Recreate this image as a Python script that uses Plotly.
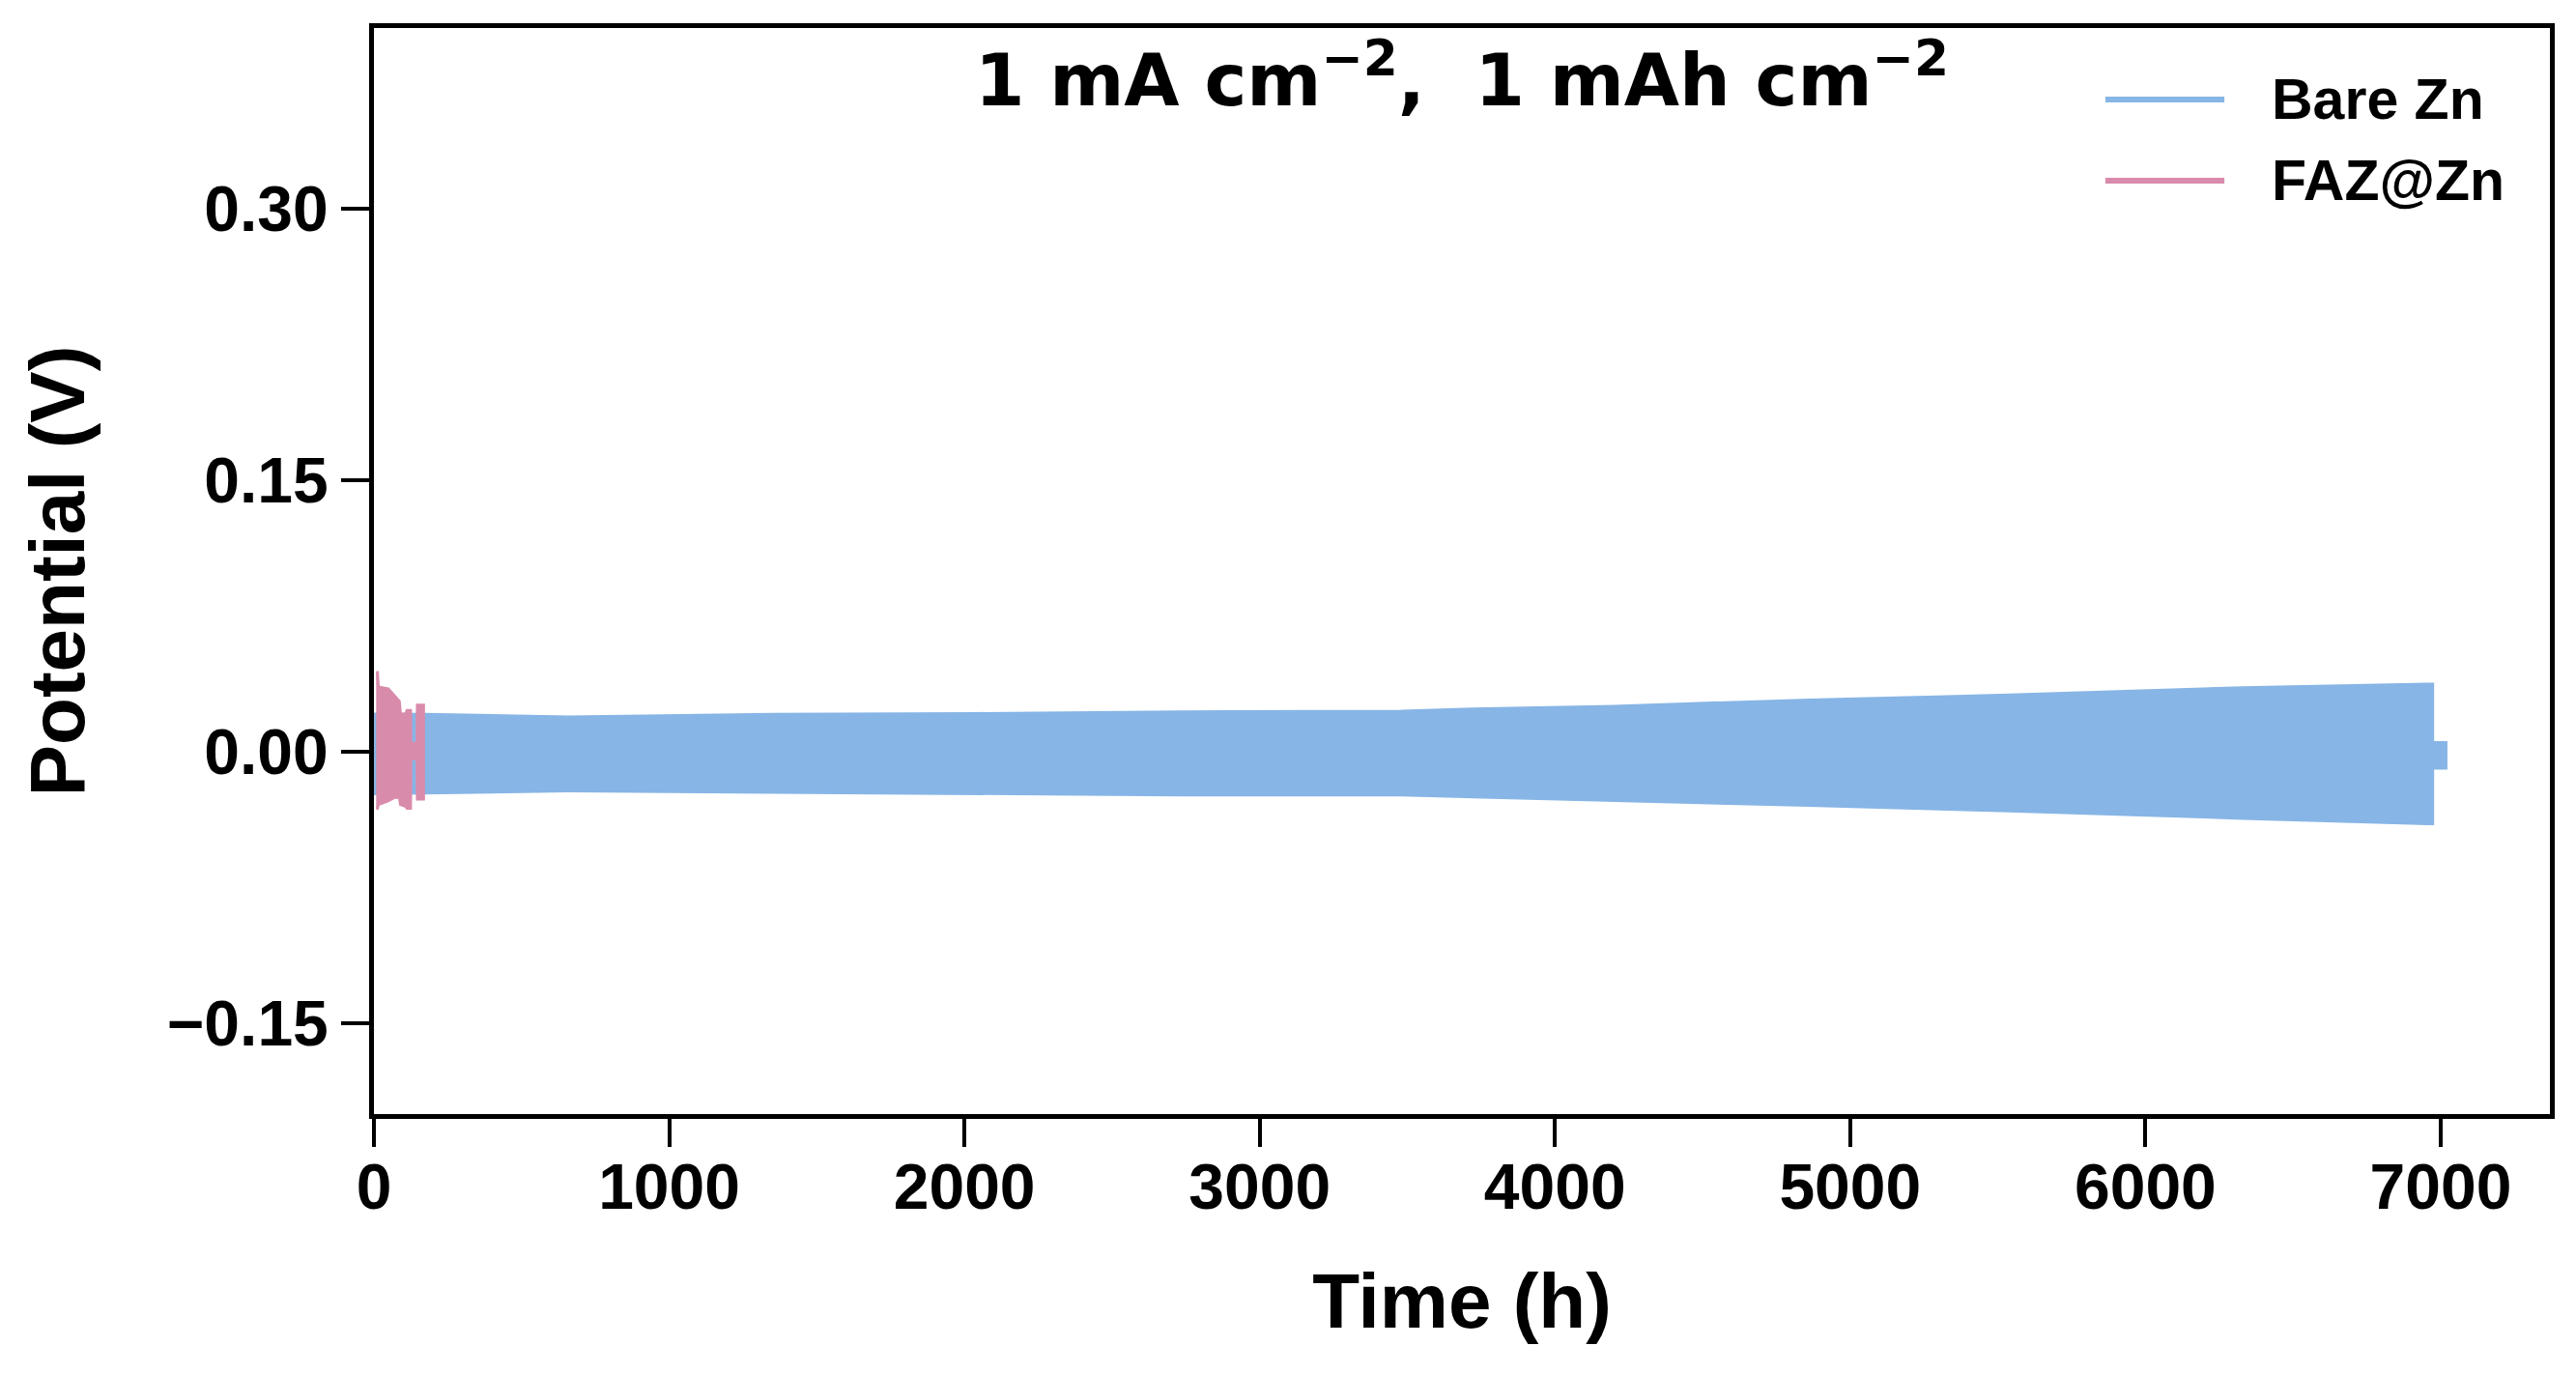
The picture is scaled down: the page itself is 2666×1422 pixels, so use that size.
import plotly.graph_objects as go

# envelope of the galvanostatic cycling band
bare_t = [0, 170, 660, 1350, 2040, 2730, 3480, 3720, 4200, 4860, 5540, 6330, 6955, 6973, 6973, 7018]
bare_top = [0.0210, 0.0208, 0.0194, 0.0208, 0.0213, 0.0222, 0.0226, 0.0238, 0.0253, 0.0288,
            0.0315, 0.0356, 0.0375, 0.0375, 0.0053, 0.0053]
bare_bottom = [-0.0230, -0.0228, -0.0215, -0.0222, -0.0228, -0.0237, -0.0237, -0.0249, -0.0267, -0.0295,
               -0.0325, -0.0366, -0.0396, -0.0396, -0.0089, -0.0089]

faz_t = [7.6, 12, 15, 48, 70, 86, 90, 108, 112, 124, 125, 146, 147, 168]
faz_top = [0.044, 0.044, 0.036, 0.035, 0.031, 0.028, 0.021, 0.021, 0.023, 0.023,
           0.0048, 0.0048, 0.026, 0.026]
faz_bottom = [-0.031, -0.031, -0.029, -0.027, -0.025, -0.025, -0.029, -0.030, -0.031, -0.031,
              -0.0037, -0.0037, -0.026, -0.026]

x_ticks = [0, 1000, 2000, 3000, 4000, 5000, 6000, 7000]
y_ticks = [-0.15, 0.00, 0.15, 0.30]

BLUE = "#87B5E6"
PINK = "#D98BAB"
TICK_FONT = dict(family="Liberation Sans, Arial", size=66, color="black", weight="bold")
LABEL_FONT = dict(family="Liberation Sans, Arial", size=80, color="black", weight="bold")


def band(t, top, bottom, color, name):
    return go.Scatter(
        x=t + t[::-1], y=top + bottom[::-1],
        fill="toself", fillcolor=color, mode="lines",
        line=dict(color=color, width=3),
        name=name, showlegend=False, hoverinfo="skip",
    )


fig = go.Figure()
fig.add_trace(band(bare_t, bare_top, bare_bottom, BLUE, "Bare Zn"))
fig.add_trace(band(faz_t, faz_top, faz_bottom, PINK, "FAZ@Zn"))

# page body adds an 8px margin, so the figure is a bit smaller than the window
fig.update_layout(
    width=2650, height=1406,
    margin=dict(l=379, r=19, t=21, b=261),
    plot_bgcolor="white", paper_bgcolor="white",
    showlegend=False,
)
axis_style = dict(
    showgrid=False, zeroline=False,
    showline=True, linecolor="black", linewidth=5, mirror=True,
    ticks="outside", ticklen=29, tickwidth=4, tickcolor="black",
    tickfont=TICK_FONT,
)
fig.update_xaxes(
    range=[0, 7370], tickvals=x_ticks, ticklabelstandoff=-15,
    title=dict(text="Time (h)", font=LABEL_FONT, standoff=55),
    **axis_style,
)
fig.update_yaxes(
    range=[-0.2, 0.4], tickvals=y_ticks, tickformat=".2f",
    title=dict(text="Potential (V)", font=LABEL_FONT, standoff=60),
    **axis_style,
)

# condition label
fig.add_annotation(
    x=0.5, y=0.956, xref="paper", yref="paper", xanchor="center", yanchor="middle",
    text="1 mA cm<sup>\u22122</sup>,  1 mAh cm<sup>\u22122</sup>", showarrow=False,
    font=dict(family="DejaVu Sans", size=74, color="black", weight="bold"),
)

# legend drawn by hand to get the long matplotlib-style handles
legend_items = [("Bare Zn", BLUE, 0.9342), ("FAZ@Zn", PINK, 0.8594)]
for label, color, ypos in legend_items:
    fig.add_shape(type="line", xref="paper", yref="paper",
                  x0=0.7957, x1=0.8504, y0=ypos, y1=ypos,
                  line=dict(color=color, width=6))
    fig.add_annotation(x=0.8712, y=ypos, xref="paper", yref="paper",
                       xanchor="left", yanchor="middle", text=label, showarrow=False,
                       font=dict(family="Liberation Sans, Arial", size=59, color="black", weight="bold"))

fig.write_html("out.html")
